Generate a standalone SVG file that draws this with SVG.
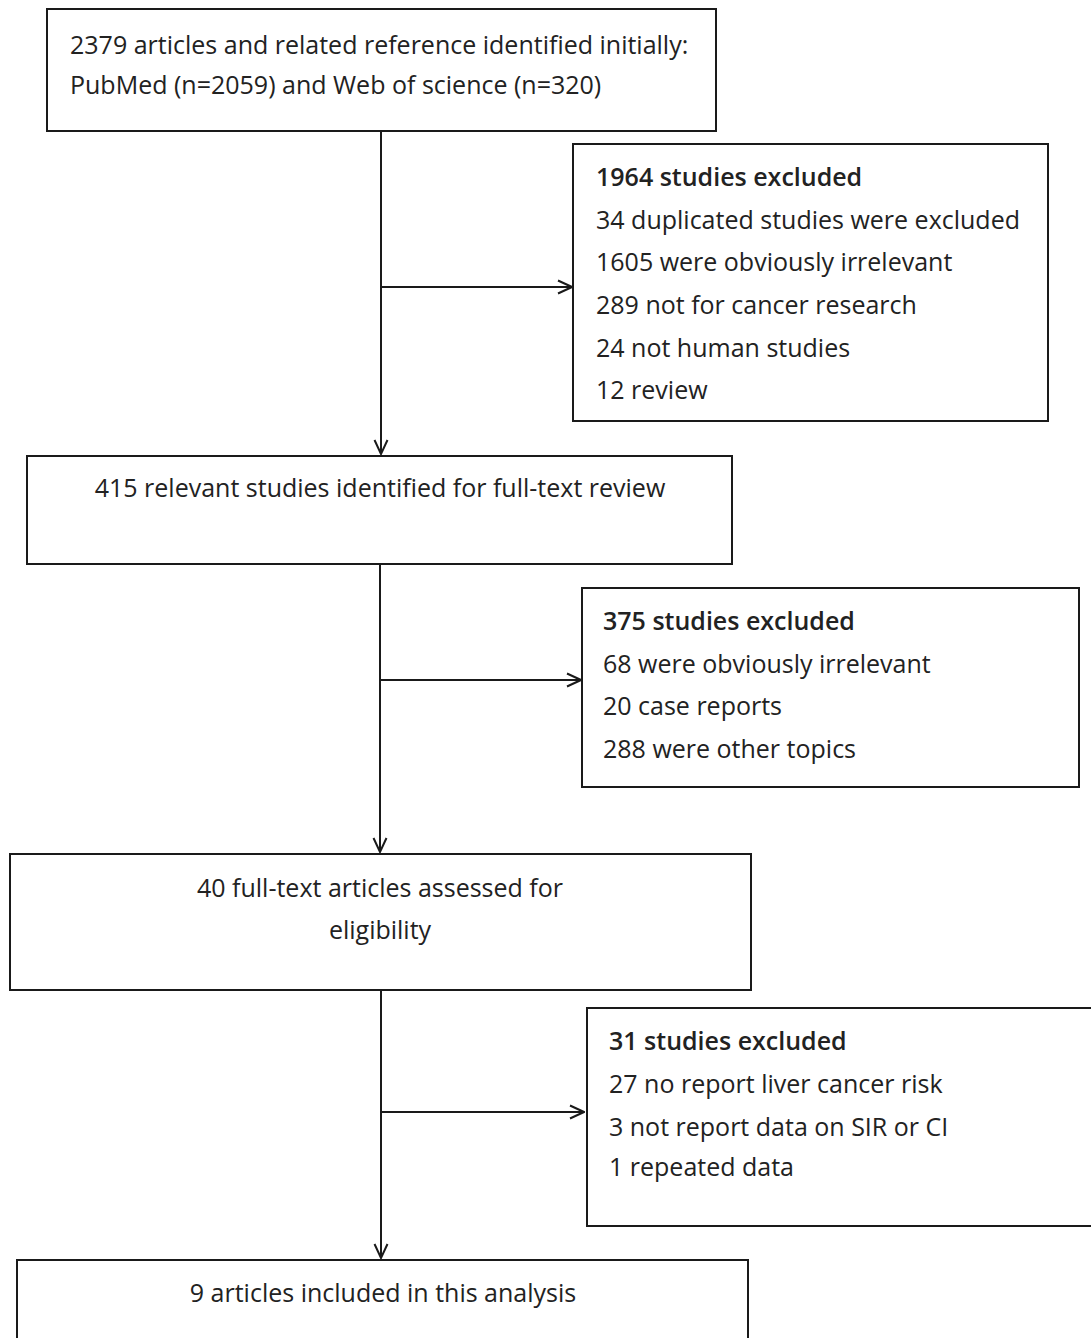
<svg xmlns="http://www.w3.org/2000/svg" width="1091" height="1338" viewBox="0 0 1091 1338">
<defs>
<marker id="arr" viewBox="0 0 16 16" refX="15" refY="8" markerWidth="16" markerHeight="16" markerUnits="userSpaceOnUse" orient="auto">
<path d="M1,1.5 L15,8 L1,14.5" fill="none" stroke="#1a1a1a" stroke-width="2"/>
</marker>
<style>
.box{fill:#fff;stroke:#1a1a1a;stroke-width:2}
.t{font-family:"Open Sans","Liberation Sans",sans-serif;font-size:25px;fill:#222}
.c{text-anchor:middle}
.b{font-weight:600}
.ln{stroke:#1a1a1a;stroke-width:2;fill:none}
</style>
</defs>
<rect width="1091" height="1338" fill="#fff"/>
<g id="connectors">
<line class="ln" x1="381" y1="131" x2="381" y2="454" marker-end="url(#arr)"/>
<line class="ln" x1="381" y1="287" x2="572" y2="287" marker-end="url(#arr)"/>
<line class="ln" x1="380" y1="564" x2="380" y2="852" marker-end="url(#arr)"/>
<line class="ln" x1="380" y1="680" x2="581" y2="680" marker-end="url(#arr)"/>
<line class="ln" x1="381" y1="990" x2="381" y2="1258" marker-end="url(#arr)"/>
<line class="ln" x1="381" y1="1112" x2="584" y2="1112" marker-end="url(#arr)"/>
</g>
<g id="n1">
<rect class="box" x="47" y="9" width="669" height="122"/>
<text class="t" x="70" y="54">2379 articles and related reference identified initially:</text>
<text class="t" x="70" y="94">PubMed (n=2059) and Web of science (n=320)</text>
</g>
<g id="e1">
<rect class="box" x="573" y="144" width="475" height="277"/>
<text class="t b" x="596" y="186">1964 studies excluded</text>
<text class="t" x="596" y="229">34 duplicated studies were excluded</text>
<text class="t" x="596" y="271">1605 were obviously irrelevant</text>
<text class="t" x="596" y="314">289 not for cancer research</text>
<text class="t" x="596" y="357">24 not human studies</text>
<text class="t" x="596" y="399">12 review</text>
</g>
<g id="n2">
<rect class="box" x="27" y="456" width="705" height="108"/>
<text class="t c" x="380" y="497">415 relevant studies identified for full-text review</text>
</g>
<g id="e2">
<rect class="box" x="582" y="588" width="497" height="199"/>
<text class="t b" x="603" y="630">375 studies excluded</text>
<text class="t" x="603" y="673">68 were obviously irrelevant</text>
<text class="t" x="603" y="715">20 case reports</text>
<text class="t" x="603" y="758">288 were other topics</text>
</g>
<g id="n3">
<rect class="box" x="10" y="854" width="741" height="136"/>
<text class="t c" x="380" y="897">40 full-text articles assessed for</text>
<text class="t c" x="380" y="939">eligibility</text>
</g>
<g id="e3">
<rect class="box" x="587" y="1008" width="520" height="218"/>
<text class="t b" x="609" y="1050">31 studies excluded</text>
<text class="t" x="609" y="1093">27 no report liver cancer risk</text>
<text class="t" x="609" y="1136">3 not report data on SIR or CI</text>
<text class="t" x="609" y="1176">1 repeated data</text>
</g>
<g id="n4">
<rect class="box" x="17" y="1260" width="731" height="100"/>
<text class="t c" x="383" y="1302">9 articles included in this analysis</text>
</g>
</svg>
